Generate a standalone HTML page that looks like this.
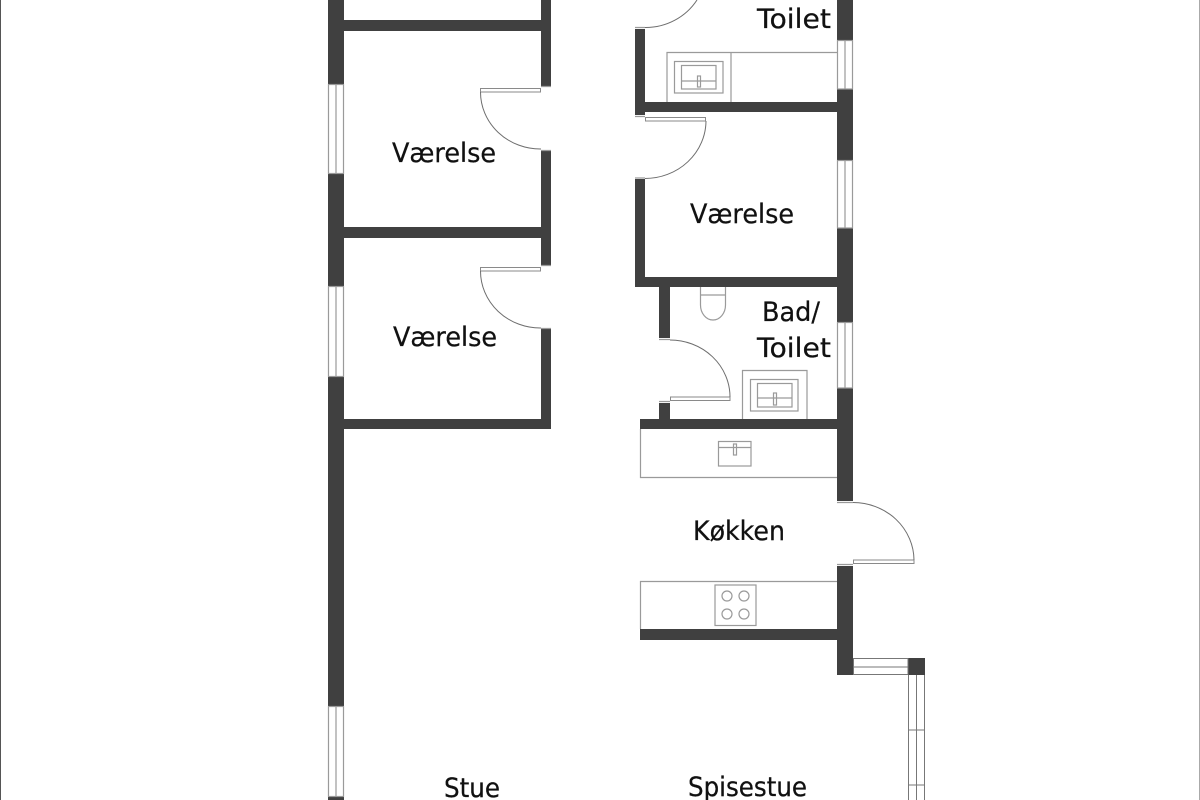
<!DOCTYPE html>
<html lang="da">
<head>
<meta charset="utf-8">
<title>Plantegning</title>
<style>
html,body{margin:0;padding:0;background:#fff;width:1200px;height:800px;overflow:hidden}
svg{display:block}
text{font-family:"DejaVu Sans","Liberation Sans",sans-serif;font-size:27px;fill:#111;stroke:#111;stroke-width:.25}
.w{fill:#404040;stroke:none}
.g{fill:none;stroke:#9a9a9a;stroke-width:1.2}
.d{fill:none;stroke:#6e6e6e;stroke-width:1}
.f{fill:#fff;stroke:#8a8a8a;stroke-width:1}
</style>
</head>
<body>
<svg width="1200" height="800" viewBox="0 0 1200 800" xmlns="http://www.w3.org/2000/svg">
<rect width="1200" height="800" fill="#fff"/>
<rect x="0" y="0" width="1" height="800" fill="#555"/>
<rect x="1199" y="0" width="1" height="800" fill="#aaa"/>

<!-- Left block walls -->
<rect class="w" x="328" y="0" width="16" height="84"/>
<rect class="w" x="328" y="173" width="16" height="113"/>
<rect class="w" x="328" y="376" width="16" height="330"/>
<rect class="w" x="328" y="796" width="16" height="4"/>
<rect class="w" x="344" y="20" width="207" height="11"/>
<rect class="w" x="344" y="227" width="207" height="11"/>
<rect class="w" x="344" y="419" width="207" height="10"/>
<rect class="w" x="541" y="0" width="10" height="86"/>
<rect class="w" x="541" y="151" width="10" height="114"/>
<rect class="w" x="541" y="329" width="10" height="100"/>

<!-- Left windows -->
<g class="g">
<rect x="328.5" y="84.5" width="15" height="89"/><path d="M336 84V173"/>
<rect x="328.5" y="286.5" width="15" height="90"/><path d="M336 286V376"/>
<rect x="328.5" y="706.5" width="15" height="90"/><path d="M336 706V796"/>
</g>

<!-- Left doors -->
<rect class="f" x="480.5" y="88.5" width="60" height="3.5"/>
<path class="g" d="M541 86.500H551M541 150.500H551"/>
<path class="d" d="M480.500 92A60 57 0 0 0 541 149"/>
<rect class="f" x="480.500" y="267.500" width="60" height="3.500"/>
<path class="g" d="M541 265.500H551M541 328.500H551"/>
<path class="d" d="M480.500 271A60 57 0 0 0 541 328"/>

<!-- Right block walls -->
<rect class="w" x="837" y="0" width="16" height="40"/>
<rect class="w" x="837" y="89" width="16" height="71"/>
<rect class="w" x="837" y="228" width="16" height="94"/>
<rect class="w" x="837" y="388" width="16" height="113"/>
<rect class="w" x="837" y="566" width="16" height="109"/>
<rect class="w" x="635" y="29" width="10" height="86"/>
<rect class="w" x="645" y="102" width="192" height="10"/>
<rect class="w" x="635" y="179" width="10" height="108"/>
<rect class="w" x="635" y="277" width="202" height="10"/>
<rect class="w" x="659" y="287" width="11" height="51"/>
<rect class="w" x="659" y="403" width="11" height="17"/>
<rect class="w" x="640" y="419" width="197" height="10"/>
<rect class="w" x="640" y="629" width="197" height="11"/>
<rect class="w" x="908" y="658" width="17" height="17"/>

<!-- Right windows -->
<g class="g">
<rect x="837.500" y="40.500" width="15" height="48.500"/><path d="M845 40V89"/>
<rect x="837.500" y="160.500" width="15" height="67.500"/><path d="M845 160V228"/>
<rect x="837.500" y="322.500" width="15" height="65.500"/><path d="M845 322V388"/>
</g>
<g fill="none" stroke="#777" stroke-width="1">
<rect x="853.500" y="658.500" width="54.500" height="16"/><path d="M853 667H908"/>
<path d="M908.500 675V800M916.500 675V800M924.500 675V800M908 730H925M908 785H925"/>
</g>

<!-- Right doors -->
<path class="d" d="M645 27.500A61 60 0 0 0 697 0"/>
<path class="g" d="M635 27.500H645M635 116.500H645M635 178H645"/>
<rect class="f" x="645.500" y="117.500" width="60" height="3.500"/>
<path class="d" d="M706 121A61 58 0 0 1 645 178.500"/>
<path class="g" d="M659 339.500H670M659 401.500H670"/>
<rect class="f" x="670.500" y="397" width="59.500" height="3.500"/>
<path class="d" d="M670 340A60 57 0 0 1 730 397"/>
<path class="g" d="M837 502.500H853M837 564.500H853"/>
<rect class="f" x="853.500" y="560" width="60.500" height="3.500"/>
<path class="d" d="M853 502.500A61 58 0 0 1 914 560"/>

<!-- Upper toilet counter -->
<g class="g">
<path d="M667 102V52.500H837M731 52V102"/>
<rect x="674.500" y="61.500" width="48.500" height="31.500"/>
<rect x="681.500" y="65.500" width="34.500" height="23.500"/>
<path d="M681 81H716"/>
<rect x="697.500" y="76" width="3" height="11"/>
</g>

<!-- Bath fixtures -->
<g class="g">
<path d="M700.500 287V305A12.500 15 0 0 0 725.500 305V287M700 295H726"/>
<path d="M742.500 419V370.500H807V419"/>
<rect x="750.500" y="379.500" width="47.500" height="31.500"/>
<rect x="757.500" y="383.500" width="34.500" height="23.500"/>
<path d="M757 398H792"/>
<rect x="773.500" y="393" width="3" height="12"/>
</g>

<!-- Kitchen counter with sink -->
<g class="g">
<path d="M640.500 429V477.500H837"/>
<rect x="718.500" y="441.500" width="32.500" height="24.500"/>
<path d="M718 447.500H751"/>
<rect x="733.500" y="444" width="3" height="11"/>
</g>

<!-- Kitchen counter with hob -->
<g class="g">
<path d="M640.500 629V581.500H837"/>
<rect x="715" y="585" width="41" height="40.500"/>
<circle cx="727" cy="596" r="5"/>
<circle cx="744" cy="596" r="5"/>
<circle cx="727" cy="614" r="5"/>
<circle cx="744" cy="614" r="5"/>
</g>

<!-- Labels -->
<text x="392" y="162" textLength="104" lengthAdjust="spacingAndGlyphs">Værelse</text>
<text x="393" y="346" textLength="104" lengthAdjust="spacingAndGlyphs">Værelse</text>
<text x="690" y="223" textLength="104" lengthAdjust="spacingAndGlyphs">Værelse</text>
<text x="757" y="28" textLength="74" lengthAdjust="spacingAndGlyphs">Toilet</text>
<text x="762" y="321" textLength="58" lengthAdjust="spacingAndGlyphs">Bad/</text>
<text x="757" y="357" textLength="74" lengthAdjust="spacingAndGlyphs">Toilet</text>
<text x="693" y="540" textLength="92" lengthAdjust="spacingAndGlyphs">Køkken</text>
<text x="688" y="796" textLength="119" lengthAdjust="spacingAndGlyphs">Spisestue</text>
<text x="444" y="797" textLength="56" lengthAdjust="spacingAndGlyphs">Stue</text>
</svg>
</body>
</html>
